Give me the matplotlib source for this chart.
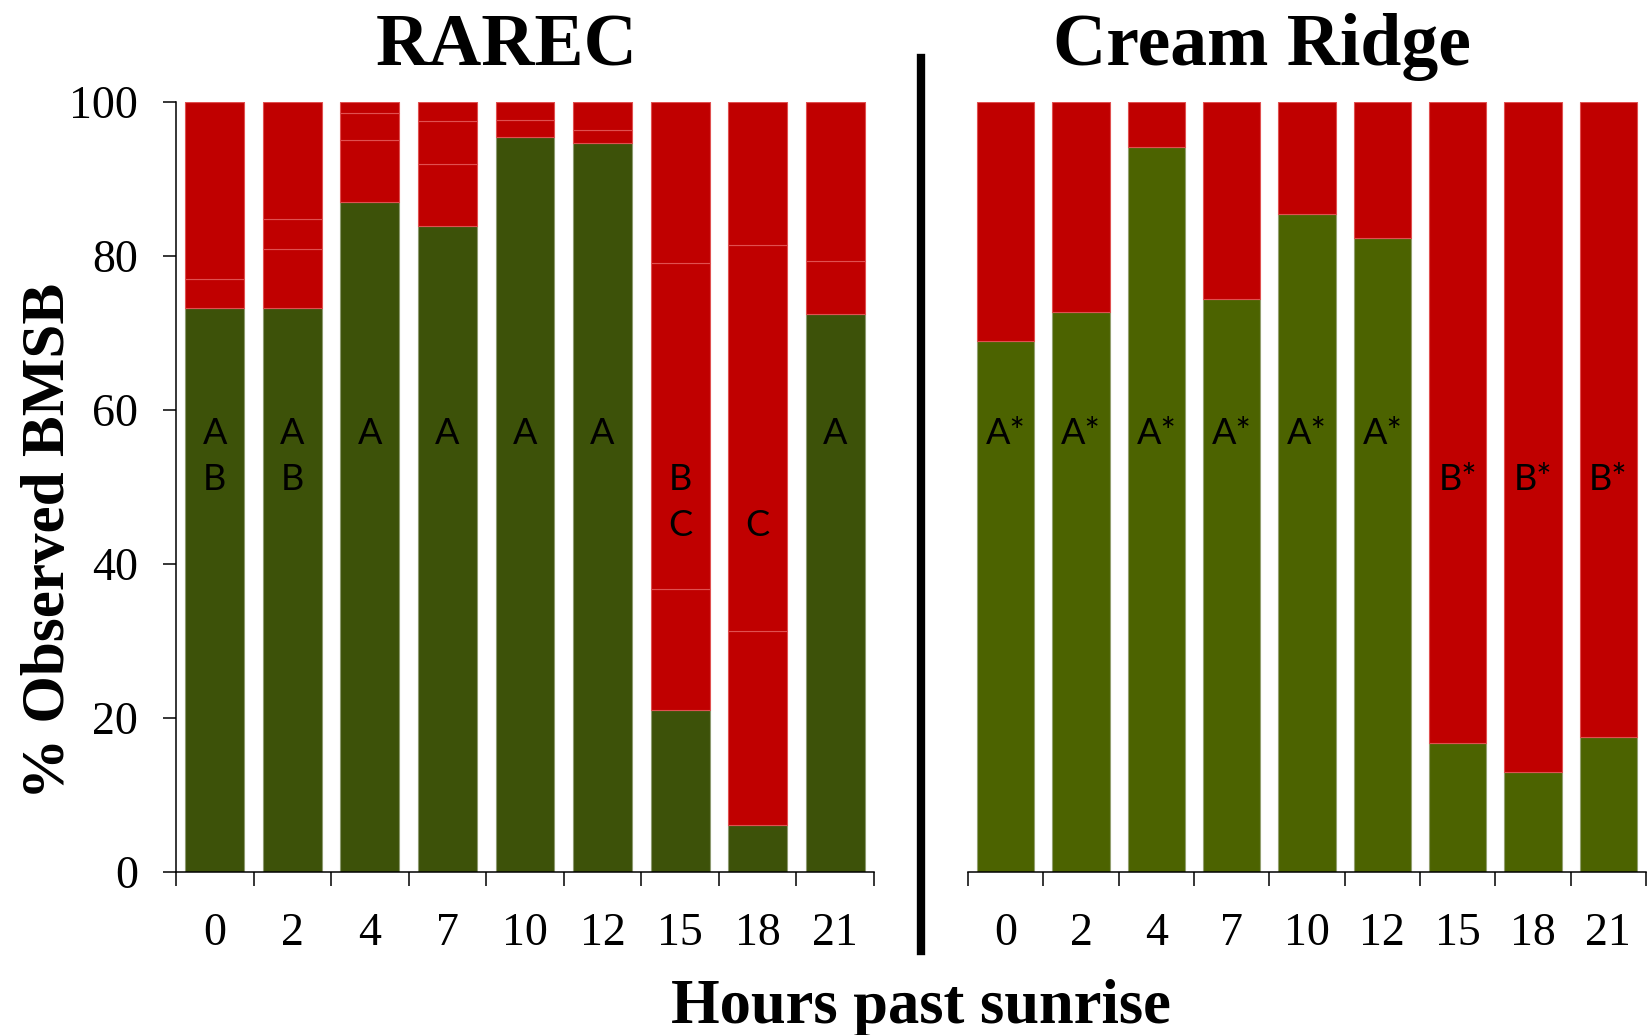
import matplotlib
matplotlib.use('agg')
import matplotlib.pyplot as plt
from matplotlib.lines import Line2D
import numpy as np

hours = ['0', '2', '4', '7', '10', '12', '15', '18', '21']

# RAREC: observed share plus the stacked red (not observed) pieces
rarec_obs = [73.2, 73.2, 87.0, 83.9, 95.4, 94.7, 21.0, 6.1, 72.5]
rarec_red1 = [3.8, 7.7, 8.1, 8.1, 2.3, 1.7, 15.8, 25.2, 6.9]
rarec_red2 = [23.0, 3.9, 3.4, 5.5, 2.3, 3.6, 42.3, 50.1, 20.6]
rarec_red3 = [0.0, 15.2, 1.5, 2.5, 0.0, 0.0, 20.9, 18.6, 0.0]
rarec_row1 = ['A', 'A', 'A', 'A', 'A', 'A', '', '', 'A']
rarec_row2 = ['B', 'B', '', '', '', '', 'B', '', '']
rarec_row3 = ['', '', '', '', '', '', 'C', 'C', '']

# Cream Ridge
cream_obs = [68.9, 72.7, 94.1, 74.4, 85.4, 82.3, 16.8, 13.0, 17.5]
cream_row1 = ['A*', 'A*', 'A*', 'A*', 'A*', 'A*', '', '', '']
cream_row2 = ['', '', '', '', '', '', 'B*', 'B*', 'B*']

RED = '#C00000'
serif = 'Liberation Serif'

fig = plt.figure(figsize=(16.48, 10.35), dpi=100)
ax1 = fig.add_axes([0.1068, 0.1575, 0.4235, 0.744])
ax2 = fig.add_axes([0.5874, 0.1575, 0.4114, 0.744])

x = np.arange(len(hours))
w = 0.76

ax1.bar(x, rarec_obs, width=w, color='#3D5209', edgecolor='#8d9a70', linewidth=0.8)
bottom = np.array(rarec_obs)
for seg in [rarec_red1, rarec_red2, rarec_red3]:
    ax1.bar(x, seg, width=w, bottom=bottom, color=RED, edgecolor='#e05050', linewidth=0.8)
    bottom = bottom + np.array(seg)

cream_red = 100 - np.array(cream_obs)
ax2.bar(x, cream_obs, width=w, color='#4C6300', edgecolor='#93a070', linewidth=0.8)
ax2.bar(x, cream_red, width=w, bottom=cream_obs, color=RED, edgecolor='#e05050', linewidth=0.8)

for ax in [ax1, ax2]:
    ax.set_xlim(-0.5, 8.5)
    ax.set_ylim(0, 100)
    ax.set_xticks(np.arange(-0.5, 9, 1))
    ax.set_xticklabels([])
    ax.set_xticks(x, minor=True)
    ax.set_xticklabels(hours, minor=True, fontsize=33, family=serif)
    ax.tick_params(axis='x', which='major', direction='out', length=10, width=1.1)
    ax.tick_params(axis='x', which='minor', length=0, pad=29)
    ax.spines['top'].set_visible(False)
    ax.spines['right'].set_visible(False)
    ax.spines['bottom'].set_linewidth(1.1)

ax1.set_yticks(range(0, 101, 20))
ax1.set_yticklabels([str(v) for v in range(0, 101, 20)], fontsize=33, family=serif)
ax1.tick_params(axis='y', direction='out', length=9.5, width=1.1, pad=18)
ax1.spines['left'].set_linewidth(1.1)

ax2.spines['left'].set_visible(False)
ax2.set_yticks([])

for i in range(len(hours)):
    for row, yy in [(rarec_row1, 57), (rarec_row2, 51), (rarec_row3, 45)]:
        if row[i]:
            ax1.text(i, yy, row[i], ha='center', va='center', fontsize=26,
                     family='Lato')
    for row, yy in [(cream_row1, 57), (cream_row2, 51)]:
        if row[i]:
            ax2.text(i, yy, row[i], ha='center', va='center', fontsize=26,
                     family='Lato')

fig.text(507 / 1648, 1 - 65 / 1035, 'RAREC', ha='center', va='baseline',
         fontsize=53, fontweight='bold', family=serif)
fig.text(1262 / 1648, 1 - 65 / 1035, 'Cream Ridge', ha='center', va='baseline',
         fontsize=53, fontweight='bold', family=serif)
fig.text(921 / 1648, 1 - 1023 / 1035, 'Hours past sunrise', ha='center', va='baseline',
         fontsize=45, fontweight='bold', family=serif)
fig.text(49 / 1648, 1 - 541 / 1035, '% Observed BMSB', ha='center', va='center',
         rotation=90, fontsize=44, fontweight='bold', family=serif)

fig.add_artist(Line2D([921 / 1648, 921 / 1648], [1 - 58 / 1035, 1 - 951 / 1035],
                      linewidth=6, color='black'))

fig.savefig('out.png', dpi=100)
